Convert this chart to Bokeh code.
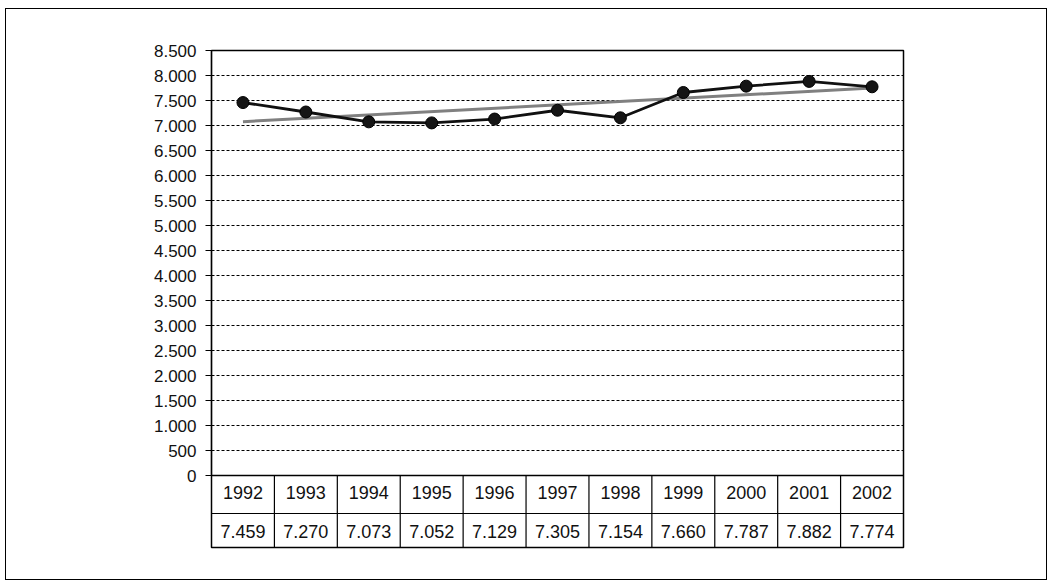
import numpy as np
from bokeh.plotting import figure
from bokeh.models import Range1d, FixedTicker, ColumnDataSource
from bokeh.core.properties import value
from bokeh.embed import file_html
from bokeh.resources import INLINE

# ---- data ----
years = ["1992", "1993", "1994", "1995", "1996", "1997", "1998", "1999", "2000", "2001", "2002"]
values = [7459, 7270, 7073, 7052, 7129, 7305, 7154, 7660, 7787, 7882, 7774]
y_ticks = list(range(0, 8501, 500))


def fmt(v):
    return f"{v:,}".replace(",", ".")


FONT = "Liberation Sans"

n = len(years)
xs = [i + 0.5 for i in range(n)]

p = figure(
    frame_width=692, frame_height=497,
    x_range=Range1d(0, n), y_range=Range1d(-1440, 8500),
    output_backend="svg", toolbar_location=None,
    x_axis_location=None,
    min_border_left=205, min_border_right=143,
    min_border_top=41, min_border_bottom=32,
)
# outer box around the whole chart
p.styles = {"margin-left": "6px", "margin-top": "9px",
            "outline": "1.5px solid black", "outline-offset": "0px"}
p.background_fill_color = "white"
p.border_fill_color = "white"
p.outline_line_color = "black"
p.outline_line_width = 1.5

# y axis
ax = p.yaxis[0]
ax.ticker = FixedTicker(ticks=y_ticks)
ax.bounds = (0, 8500)
ax.major_label_overrides = {t: fmt(t) for t in y_ticks}
ax.major_label_text_font = FONT
ax.major_label_text_font_size = "17px"
ax.major_label_text_color = "#111111"
ax.major_label_standoff = 9
ax.axis_line_color = "black"
ax.axis_line_width = 1.2
ax.major_tick_line_color = "black"
ax.major_tick_out = 6
ax.major_tick_in = 0
ax.minor_tick_line_color = None

# grid
p.xgrid.visible = False
p.ygrid.ticker = FixedTicker(ticks=y_ticks[1:-1])
p.ygrid.grid_line_color = "black"
p.ygrid.grid_line_dash = "3 2"
p.ygrid.grid_line_width = 1

# table lines
p.segment(x0=0, x1=n, y0=0, y1=0, line_color="black", line_width=1.5)
p.segment(x0=0, x1=n, y0=-760, y1=-760, line_color="black", line_width=1.2)
p.segment(x0=list(range(1, n)), x1=list(range(1, n)), y0=-1440, y1=0,
          line_color="black", line_width=1.2)

# trend line (least-squares fit of the series)
coef = np.polyfit(np.arange(n), np.array(values, dtype=float), 1)
trend = [float(np.polyval(coef, i)) for i in range(n)]
p.line(x=[xs[0], xs[-1]], y=[trend[0], trend[-1]], line_color="#808080", line_width=3)

# series
src = ColumnDataSource(dict(x=xs, y=values))
p.line("x", "y", source=src, line_color="#111111", line_width=2.8)
p.scatter("x", "y", source=src, size=12, fill_color="#151515", line_color="#000000")

# table text
p.text(x=xs, y=[-340] * n, text=years, text_align="center", text_baseline="middle",
       text_font=value(FONT), text_font_size="18px", text_color="#111111")
p.text(x=xs, y=[-1120] * n, text=[fmt(v) for v in values], text_align="center",
       text_baseline="middle", text_font=value(FONT), text_font_size="18px",
       text_color="#111111")

open("out.html", "w").write(file_html(p, INLINE))
